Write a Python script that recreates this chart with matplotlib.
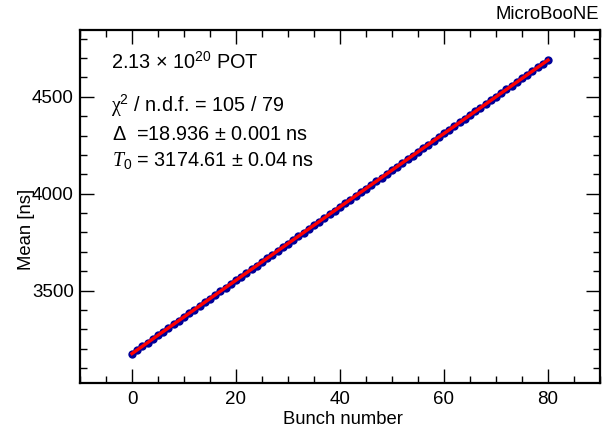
import matplotlib
matplotlib.use("Agg")
import matplotlib.pyplot as plt
import numpy as np
from matplotlib.ticker import MultipleLocator

plt.rcParams['font.family'] = ['Liberation Sans', 'DejaVu Sans']
plt.rcParams['mathtext.fontset'] = 'custom'
plt.rcParams['mathtext.rm'] = 'Liberation Sans'
plt.rcParams['mathtext.it'] = 'Liberation Serif:italic'
plt.rcParams['mathtext.sf'] = 'Liberation Serif'
plt.rcParams['mathtext.bf'] = 'Liberation Sans:bold'

# ---- data ----
bunch = list(range(81))
mean_ns = [
    3174.6, 3193.5, 3212.5, 3231.4, 3250.4, 3269.3, 3288.2, 3307.2, 3326.1, 3345.0,
    3364.0, 3382.9, 3401.8, 3420.8, 3439.7, 3458.7, 3477.6, 3496.5, 3515.5, 3534.4,
    3553.3, 3572.3, 3591.2, 3610.1, 3629.1, 3648.0, 3666.9, 3685.9, 3704.8, 3723.8,
    3742.7, 3761.6, 3780.6, 3799.5, 3818.4, 3837.4, 3856.3, 3875.2, 3894.2, 3913.1,
    3932.1, 3951.0, 3969.9, 3988.9, 4007.8, 4026.7, 4045.7, 4064.6, 4083.5, 4102.5,
    4121.4, 4140.3, 4159.3, 4178.2, 4197.2, 4216.1, 4235.0, 4254.0, 4272.9, 4291.8,
    4310.8, 4329.7, 4348.6, 4367.6, 4386.5, 4405.5, 4424.4, 4443.3, 4462.3, 4481.2,
    4500.1, 4519.1, 4538.0, 4556.9, 4575.9, 4594.8, 4613.7, 4632.7, 4651.6, 4670.6,
    4689.5,
]
fit_T0 = 3174.61
fit_delta = 18.936
fit_range = [0, 80]
xticks = [0, 20, 40, 60, 80]
yticks = [3500, 4000, 4500]

W, H = 602, 436
fig = plt.figure(figsize=(W / 100, H / 100), dpi=100)
L, R, T, B = 80, 600, 30, 383
ax = fig.add_axes([L / W, 1 - B / H, (R - L) / W, (B - T) / H])

ax.plot(bunch, mean_ns, 'o', color='#000099', markersize=6.0, markeredgewidth=0, zorder=2)
fx = np.array(fit_range, dtype=float)
ax.plot(fx, fit_T0 + fit_delta * fx, '-', color='#ff0000', lw=2.4, zorder=3)

ax.set_xlim(-10, 90)
ax.set_ylim(3023, 4845)
ax.set_xticks(xticks)
ax.set_yticks(yticks)
ax.xaxis.set_minor_locator(MultipleLocator(5))
ax.yaxis.set_minor_locator(MultipleLocator(100))
ax.tick_params(which='both', direction='in', top=True, right=True, width=1.0, color='black')
ax.tick_params(which='major', length=10, labelsize=13.5)
ax.tick_params(axis='x', which='major', pad=6)
ax.tick_params(axis='y', which='major', pad=4.5)
ax.tick_params(which='minor', length=5)
for s in ax.spines.values():
    s.set_linewidth(1.6)

def fx_(x):
    return x / W
def fy_(y):
    return 1 - y / H

fig.text(fx_(343), fy_(424), 'Bunch number', fontsize=13.3, ha='center', va='baseline')
fig.text(fx_(27), fy_(189), 'Mean [ns]', fontsize=13.3, ha='right', va='center', rotation=90,
         rotation_mode='anchor')
fig.text(fx_(599), fy_(19), 'MicroBooNE', fontsize=13.3, ha='right', va='baseline')

tfs = 14.3
fig.text(fx_(111), fy_(69), r'2.13 $\times$ 10$^{20}$ POT', fontsize=tfs, va='baseline')
fig.text(fx_(111), fy_(112), r'$\mathsf{\chi}^{2}$ / n.d.f. = 105 / 79', fontsize=tfs, va='baseline')
fig.text(fx_(112), fy_(140), r'$\Delta$  =18.936 $\pm$ 0.001 ns', fontsize=tfs, va='baseline')
fig.text(fx_(112), fy_(166), r'$T_{0}$ = 3174.61 $\pm$ 0.04 ns', fontsize=tfs, va='baseline')

fig.savefig('out.png', dpi=100)
